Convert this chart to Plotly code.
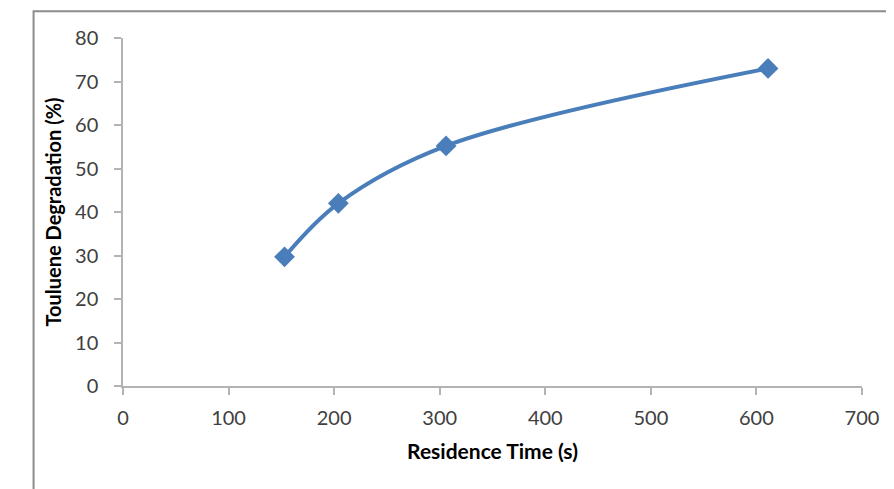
import plotly.graph_objects as go

residence_time = [153, 204, 306, 611]
degradation = [29.7, 42.0, 55.2, 73.0]

x_ticks = [0, 100, 200, 300, 400, 500, 600, 700]
y_ticks = [0, 10, 20, 30, 40, 50, 60, 70, 80]

FONT = "Lato, Liberation Sans, sans-serif"

fig = go.Figure()
fig.add_trace(go.Scatter(
    x=residence_time, y=degradation,
    mode="lines+markers",
    line=dict(color="#4a7ebb", width=4, shape="spline", smoothing=1.0),
    marker=dict(symbol="diamond", size=16, color="#4a7ebb"),
    showlegend=False,
))

axis_common = dict(
    showgrid=False, zeroline=False, showline=True,
    linecolor="#b3b3b3", linewidth=1.5,
    ticks="outside", ticklen=7, tickwidth=1.5, tickcolor="#b3b3b3",
    tickfont=dict(family=FONT, size=20, color="#404040"),
)

fig.update_layout(
    width=886, height=481,
    paper_bgcolor="white", plot_bgcolor="white",
    margin=dict(l=115, r=32, t=30, b=103),
    xaxis=dict(range=[0, 700], tickvals=x_ticks, ticklabelstandoff=6,
               title=dict(text="<b>Residence Time (s)</b>", standoff=17,
                          font=dict(family=FONT, size=21, color="#000000")),
               **axis_common),
    yaxis=dict(range=[0, 80], tickvals=y_ticks, ticklabelstandoff=12,
               title=dict(text="<b>Touluene Degradation (%)</b>", standoff=8,
                          font=dict(family=FONT, size=20, color="#000000")),
               **axis_common),
    shapes=[dict(type="rect", xref="paper", yref="paper",
                 x0=-0.121, x1=1.1, y0=-0.5, y1=1.077,
                 line=dict(color="#8c8c8c", width=2), fillcolor="rgba(0,0,0,0)", layer="below")],
)

fig.write_html("out.html")
